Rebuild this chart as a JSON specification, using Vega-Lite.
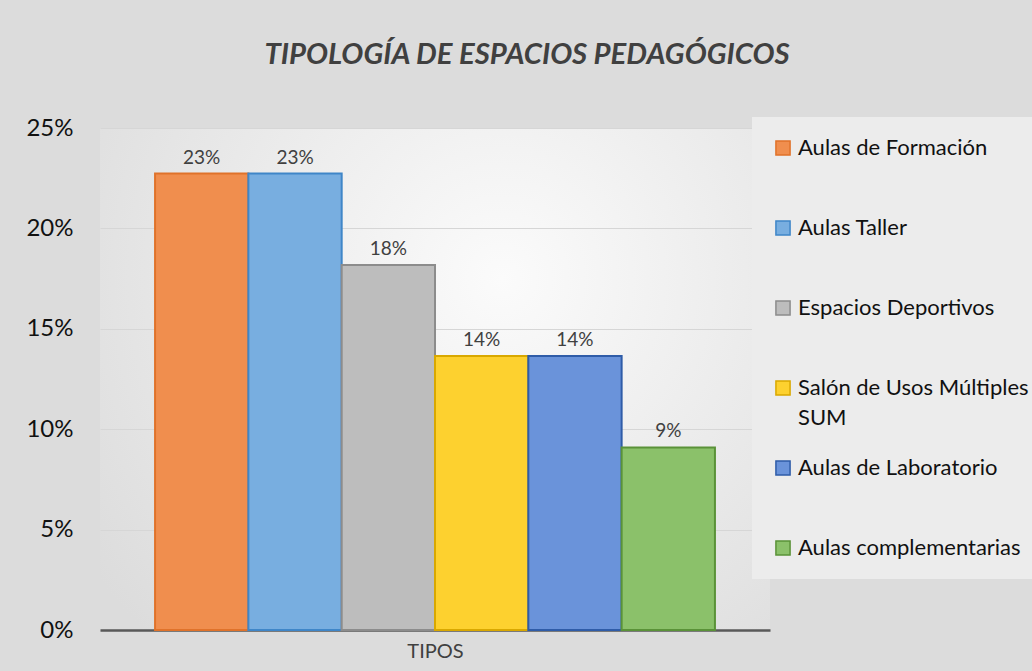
{
  "$schema": "https://vega.github.io/schema/vega-lite/v6.json",
  "autosize": {"type": "none"},
  "width": 670,
  "height": 502,
  "padding": {"left": 100, "top": 128, "right": 262, "bottom": 41},
  "background": "#dcdcdc",
  "title": {
    "text": "TIPOLOGÍA DE ESPACIOS PEDAGÓGICOS",
    "font": "Lato",
    "fontSize": 29.3,
    "fontWeight": "bold",
    "fontStyle": "italic",
    "color": "#404040",
    "anchor": "middle",
    "dx": 92,
    "offset": 46
  },
  "data": {
    "values": [
      {"tipo": "Aulas de Formación", "valor": 0.2273},
      {"tipo": "Aulas Taller", "valor": 0.2273},
      {"tipo": "Espacios Deportivos", "valor": 0.1818},
      {"tipo": "Salón de Usos Múltiples SUM", "valor": 0.1364},
      {"tipo": "Aulas de Laboratorio", "valor": 0.1364},
      {"tipo": "Aulas complementarias", "valor": 0.0909}
    ]
  },
  "encoding": {
    "x": {
      "field": "tipo",
      "type": "nominal",
      "sort": null,
      "scale": {"paddingInner": 0, "paddingOuter": 0.59},
      "axis": {
        "title": "TIPOS",
        "titleFont": "Lato",
        "titleFontSize": 20,
        "titleFontWeight": "normal",
        "titleColor": "#404040",
        "titlePadding": 11,
        "labels": false,
        "ticks": false,
        "domainColor": "#595959",
        "domainWidth": 2.5
      }
    },
    "y": {
      "field": "valor",
      "type": "quantitative",
      "scale": {"domain": [0, 0.25]},
      "axis": {
        "format": ".0%",
        "values": [0, 0.05, 0.1, 0.15, 0.2, 0.25],
        "labelOverlap": false,
        "title": null,
        "labelFont": "Lato",
        "labelFontSize": 24,
        "labelColor": "#111111",
        "labelPadding": 27,
        "ticks": false,
        "domain": false,
        "gridColor": "#d6d6d6",
        "gridWidth": 1
      }
    }
  },
  "layer": [
    {
      "mark": {"type": "bar", "strokeWidth": 2, "opacity": 1},
      "encoding": {
        "fill": {
          "field": "tipo",
          "type": "nominal",
          "sort": null,
          "scale": {
            "domain": ["Aulas de Formación", "Aulas Taller", "Espacios Deportivos", "Salón de Usos Múltiples SUM", "Aulas de Laboratorio", "Aulas complementarias"],
            "range": ["#F08E4E", "#78AEE0", "#BDBDBD", "#FDD12F", "#6A93DA", "#8BC16A"]
          },
          "legend": {
            "title": null,
            "orient": "none",
            "legendX": 652,
            "legendY": -11,
            "padding": 20,
            "fillColor": "#ececec",
            "columns": 1,
            "gridAlign": "all",
            "symbolType": "square",
            "symbolSize": 200,
            "symbolStrokeWidth": 1.5,
            "labelFont": "Lato",
            "labelFontSize": 22,
            "labelColor": "#111111",
            "labelLimit": 300,
            "rowPadding": 28,
            "labelOffset": 4,
            "labelExpr": "datum.label == 'Salón de Usos Múltiples SUM' ? ['Salón de Usos Múltiples', 'SUM'] : datum.label"
          }
        },
        "stroke": {
          "field": "tipo",
          "type": "nominal",
          "sort": null,
          "scale": {
            "domain": ["Aulas de Formación", "Aulas Taller", "Espacios Deportivos", "Salón de Usos Múltiples SUM", "Aulas de Laboratorio", "Aulas complementarias"],
            "range": ["#E0722A", "#3F86C8", "#8C8C8C", "#D9A800", "#2F5CA8", "#5A9238"]
          },
          "legend": {
            "title": null,
            "orient": "none",
            "legendX": 652,
            "legendY": -11,
            "padding": 20,
            "fillColor": "#ececec",
            "columns": 1,
            "gridAlign": "all",
            "symbolType": "square",
            "symbolSize": 200,
            "symbolStrokeWidth": 1.5,
            "labelFont": "Lato",
            "labelFontSize": 22,
            "labelColor": "#111111",
            "labelLimit": 300,
            "rowPadding": 28,
            "labelOffset": 4,
            "labelExpr": "datum.label == 'Salón de Usos Múltiples SUM' ? ['Salón de Usos Múltiples', 'SUM'] : datum.label"
          }
        }
      }
    },
    {
      "mark": {"type": "text", "dy": -16, "font": "Lato", "fontSize": 19, "color": "#404040"},
      "encoding": {
        "text": {"field": "valor", "type": "quantitative", "format": ".0%"}
      }
    }
  ],
  "config": {
    "style": {"guide-label": {"lineHeight": 30}},
    "view": {
      "stroke": null,
      "fill": {
        "gradient": "radial",
        "x1": 0.6, "y1": 0.35, "r1": 0,
        "x2": 0.6, "y2": 0.35, "r2": 0.75,
        "stops": [
          {"offset": 0, "color": "#fbfbfb"},
          {"offset": 1, "color": "#dcdcdc"}
        ]
      }
    }
  }
}
